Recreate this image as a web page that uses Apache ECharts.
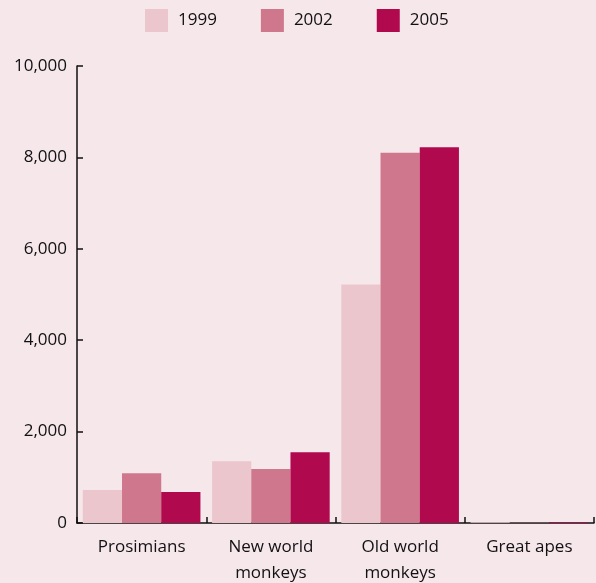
<!DOCTYPE html>
<html>
<head>
<meta charset="utf-8">
<script src="https://cdn.jsdelivr.net/npm/echarts@6/dist/echarts.min.js"></script>
<style>
  html, body { margin: 0; padding: 0; background: #f6e7eb; }
  #chart { width: 596px; height: 583px; }
</style>
</head>
<body>
<div id="chart"></div>
<script>
// Primate groups and counts per survey year
const categories = ['Prosimians', 'New world\nmonkeys', 'Old world\nmonkeys', 'Great apes'];
const years = ['1999', '2002', '2005'];
const values1999 = [720, 1350, 5220, 18];
const values2002 = [1090, 1180, 8100, 6];
const values2005 = [680, 1550, 8220, 18];
const yTicks = [0, 2000, 4000, 6000, 8000, 10000];

const colors = ['#ebc6cd', '#cf778c', '#b0094e'];
const font = '"Open Sans", "Noto Sans", sans-serif';
const seriesValues = [values1999, values2002, values2005];

const chart = echarts.init(document.getElementById('chart'));
chart.setOption({
  backgroundColor: '#f6e7eb',
  animation: false,
  color: colors,
  legend: {
    top: 9,
    left: 145,
    padding: 0,
    itemWidth: 23,
    itemHeight: 23,
    itemGap: 44,
    icon: 'rect',
    textStyle: { fontFamily: font, fontSize: 17, color: '#111', padding: [0, 0, 0, 5] },
    data: years
  },
  grid: { left: 77, right: 2, top: 66, bottom: 60, containLabel: false, outerBoundsMode: 'none' },
  xAxis: {
    type: 'category',
    data: categories,
    axisLine: { lineStyle: { color: '#111', width: 1.5 } },
    axisTick: { show: true, inside: true, length: 6, lineStyle: { color: '#111', width: 1.5 } },
    axisLabel: { fontFamily: font, fontSize: 17, color: '#111', margin: 11, lineHeight: 26 }
  },
  yAxis: {
    type: 'value',
    min: yTicks[0],
    max: yTicks[yTicks.length - 1],
    interval: 2000,
    splitLine: { show: false },
    axisLine: { show: true, lineStyle: { color: '#111', width: 1.5 } },
    axisTick: { show: true, inside: true, length: 6, lineStyle: { color: '#111', width: 1.5 } },
    axisLabel: {
      fontFamily: font, fontSize: 17, color: '#111', margin: 10,
      formatter: v => v.toLocaleString('en-US')
    }
  },
  series: years.map((y, i) => ({
    name: y,
    type: 'bar',
    data: seriesValues[i],
    barGap: '0%',
    barCategoryGap: '9%',
    itemStyle: { color: colors[i] }
  }))
});
</script>
</body>
</html>
